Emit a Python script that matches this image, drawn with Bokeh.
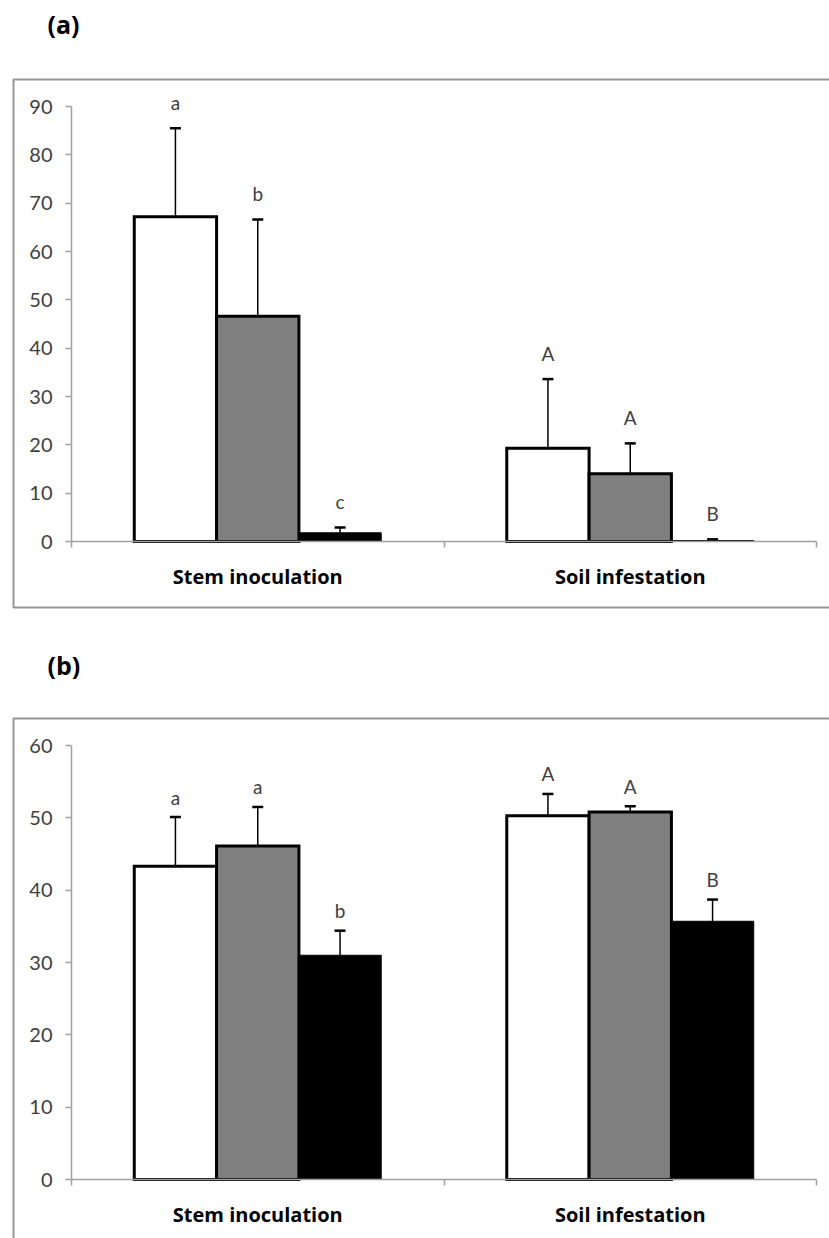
from bokeh.plotting import figure
from bokeh.models import (Range1d, FixedTicker, Whisker, TeeHead, ColumnDataSource,
                          BoxAnnotation, Label)
from bokeh.layouts import column
from bokeh.embed import file_html
from bokeh.resources import INLINE
from bokeh.core.properties import value

# ---------------- data ----------------
categories = ["Stem inoculation", "Soil infestation"]

a_white = [67.2, 19.3]
a_gray = [46.6, 14.0]
a_black = [1.8, 0.2]
a_white_err = [18.3, 14.3]
a_gray_err = [20.0, 6.3]
a_black_err = [1.1, 0.25]
a_white_letters = ["a", "A"]
a_gray_letters = ["b", "A"]
a_black_letters = ["c", "B"]
a_yticks = [0, 10, 20, 30, 40, 50, 60, 70, 80, 90]

b_white = [43.3, 50.3]
b_gray = [46.1, 50.8]
b_black = [31.0, 35.7]
b_white_err = [6.8, 3.0]
b_gray_err = [5.4, 0.8]
b_black_err = [3.4, 3.0]
b_white_letters = ["a", "A"]
b_gray_letters = ["a", "A"]
b_black_letters = ["b", "B"]
b_yticks = [0, 10, 20, 30, 40, 50, 60]

# ---------------- styling / layout (page pixels) ----------------
FILLS = ["#ffffff", "#808080", "#000000"]
OUTLINE_W = [3, 3, 1]
BAR_W = 0.221
TXT = "#404040"
AXC = "#a0a0a0"
BORDER = "#969696"
FONT = "Lato"

PAGE_W = 829
X_LEFT, X_RIGHT = 71, 816          # page px of x=0 and x=len(categories)
BORDER_LEFT = 13                   # chart-area border
TAG_LEFT = 47


def build(tag, series, errs, letters, yticks, canvas_top, canvas_bot,
          tick_top_px, axis_px, border_top, border_bot, tag_y, letter_gap):
    ymax = yticks[-1]
    n = len(categories)
    ppu_y = (axis_px - tick_top_px) / ymax
    ppu_x = (X_RIGHT - X_LEFT) / n

    def dx(px):
        return (px - X_LEFT) / ppu_x

    def dy(px):
        return (axis_px - px) / ppu_y

    p = figure(width=PAGE_W, height=canvas_bot - canvas_top, output_backend="svg",
               toolbar_location=None,
               x_range=Range1d(dx(0), dx(PAGE_W)),
               y_range=Range1d(dy(canvas_bot), dy(canvas_top)),
               min_border_left=0, min_border_right=0,
               min_border_top=0, min_border_bottom=0)
    p.grid.visible = False
    p.outline_line_color = None
    p.background_fill_color = "white"
    p.border_fill_color = "white"

    # chart-area border (Excel style)
    p.add_layout(BoxAnnotation(left=dx(BORDER_LEFT), right=dx(PAGE_W + 40),
                               top=dy(border_top), bottom=dy(border_bot),
                               fill_alpha=0, line_color=BORDER, line_alpha=1.0,
                               line_width=2, level="underlay"))
    # panel tag
    p.add_layout(Label(x=dx(TAG_LEFT), y=dy(tag_y), text=tag,
                       text_font="Open Sans", text_font_style="bold",
                       text_font_size="25px", text_color="black",
                       text_baseline="middle", text_align="left"))

    centers = [i + 0.5 for i in range(n)]
    offsets = [-BAR_W, 0.0, BAR_W]
    for k, (vals, err, lets) in enumerate(zip(series, errs, letters)):
        xs = [c + offsets[k] for c in centers]
        src = ColumnDataSource(dict(x=xs, top=vals,
                                    upper=[v + e for v, e in zip(vals, err)],
                                    lets=lets))
        p.vbar(x="x", top="top", bottom=0, width=BAR_W, source=src,
               fill_color=FILLS[k], line_color="black", line_width=OUTLINE_W[k],
               line_join="miter")
        w = Whisker(base="x", lower="top", upper="upper", source=src,
                    line_color="black", line_width=1.5,
                    upper_head=TeeHead(size=11, line_width=2.5, line_color="black"),
                    lower_head=None)
        p.add_layout(w)
        p.text(x="x", y="upper", text="lets", source=src, y_offset=-letter_gap,
               text_align="center", text_baseline="middle",
               text_font=value(FONT), text_font_size="19px", text_color=TXT)

    # y axis, fixed at x = 0
    ya = p.yaxis[0]
    ya.fixed_location = 0
    ya.ticker = FixedTicker(ticks=yticks)
    ya.bounds = (0, ymax)
    ya.axis_line_color = AXC
    ya.axis_line_width = 1.5
    ya.major_tick_line_color = AXC
    ya.major_tick_line_width = 1.5
    ya.major_tick_in = 0
    ya.major_tick_out = 6
    ya.minor_tick_line_color = None
    ya.major_label_standoff = 13
    ya.major_label_text_font = FONT
    ya.major_label_text_font_size = "20px"
    ya.major_label_text_color = TXT

    # x axis, fixed at y = 0: labels centred on categories, ticks on boundaries
    xa = p.xaxis[0]
    xa.fixed_location = 0
    xa.bounds = (0, n)
    xa.ticker = FixedTicker(ticks=centers, minor_ticks=list(range(n + 1)))
    xa.major_label_overrides = {c: lab for c, lab in zip(centers, categories)}
    xa.axis_line_color = AXC
    xa.axis_line_width = 1.5
    xa.major_tick_line_color = None
    xa.major_tick_in = 0
    xa.major_tick_out = 0
    xa.minor_tick_line_color = AXC
    xa.minor_tick_line_width = 1.5
    xa.minor_tick_in = 0
    xa.minor_tick_out = 6
    xa.major_label_standoff = 15
    xa.major_label_text_font = "Open Sans"
    xa.major_label_text_font_style = "bold"
    xa.major_label_text_font_size = "20px"
    xa.major_label_text_color = "black"
    return p


pa = build("(a)", [a_white, a_gray, a_black], [a_white_err, a_gray_err, a_black_err],
           [a_white_letters, a_gray_letters, a_black_letters], a_yticks,
           canvas_top=0, canvas_bot=640, tick_top_px=106, axis_px=541,
           border_top=79, border_bot=607, tag_y=23, letter_gap=26)
pb = build("(b)", [b_white, b_gray, b_black], [b_white_err, b_gray_err, b_black_err],
           [b_white_letters, b_gray_letters, b_black_letters], b_yticks,
           canvas_top=640, canvas_bot=1238, tick_top_px=745, axis_px=1179,
           border_top=718, border_bot=1290, tag_y=664, letter_gap=20)

layout = column(pa, pb, spacing=0)
open("out.html", "w").write(file_html(layout, INLINE))
